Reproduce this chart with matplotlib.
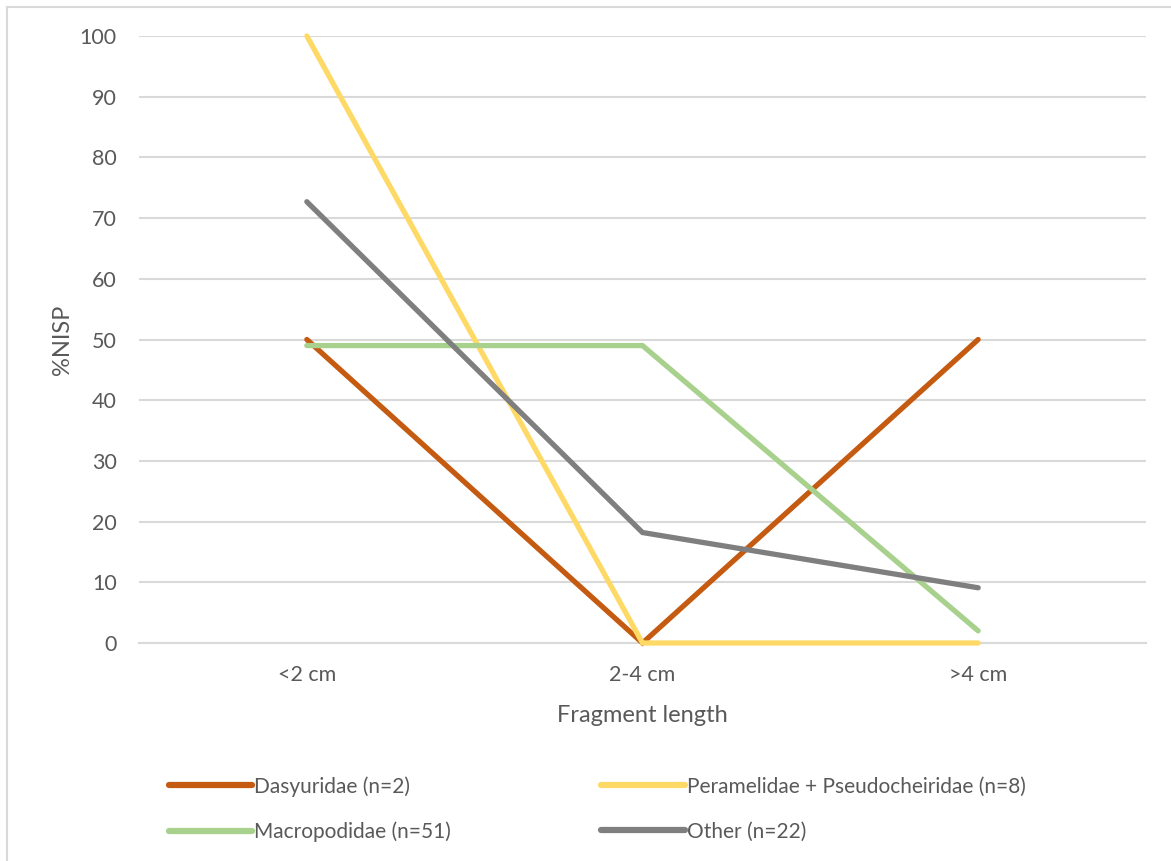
import matplotlib.pyplot as plt
from matplotlib.lines import Line2D

# Fragment length classes and %NISP per taxon
categories = ['<2 cm', '2-4 cm', '>4 cm']
dasyuridae = [50, 0, 50]
peramelidae = [100, 0, 0]
macropodidae = [49.0, 49.0, 2.0]
other = [72.7, 18.2, 9.1]

labels = ['Dasyuridae (n=2)', 'Peramelidae + Pseudocheiridae (n=8)',
          'Macropodidae (n=51)', 'Other (n=22)']
colors = ['#C55A11', '#FFD966', '#A9D18E', '#7F7F7F']

plt.rcParams['font.family'] = ['Lato', 'DejaVu Sans']
text_col = '#595959'

fig = plt.figure(figsize=(11.71, 8.61), dpi=100)
ax = fig.add_axes([139 / 1171, 1 - 643 / 861, (1146 - 139) / 1171, (643 - 36) / 861])

x = range(len(categories))
handles = []
for vals, lab, col in zip([dasyuridae, peramelidae, macropodidae, other], labels, colors):
    ln, = ax.plot(x, vals, color=col, lw=3.8, solid_capstyle='round',
                  solid_joinstyle='miter', label=lab, clip_on=False, zorder=3)
    handles.append(ln)

ax.set_xlim(-0.5, 2.5)
ax.set_ylim(0, 100)
ax.set_yticks(range(0, 101, 10))
ax.set_xticks(list(x))
ax.set_xticklabels(categories)

ax.grid(axis='y', color='#D9D9D9', lw=1.5, zorder=0)
ax.set_axisbelow(True)
for s in ['top', 'right', 'left']:
    ax.spines[s].set_visible(False)
ax.spines['bottom'].set_color('#D9D9D9')
ax.spines['bottom'].set_linewidth(1.5)

ax.tick_params(axis='both', length=0, labelsize=15.5, labelcolor=text_col)
ax.tick_params(axis='y', pad=16)
ax.tick_params(axis='x', pad=16)

ax.set_xlabel('Fragment length', fontsize=17, color=text_col, labelpad=14)
ax.set_ylabel('%NISP', fontsize=17, color=text_col, labelpad=5)

# legend filled column-wise, so reorder to read row-wise
order = [0, 2, 1, 3]
leg_handles = [Line2D([], [], color=colors[i], lw=4.5, solid_capstyle='round') for i in order]
fig.legend(leg_handles, [labels[i] for i in order], ncol=2, frameon=False,
           loc='upper left', bbox_to_anchor=(169 / 1171, 1 - 776 / 861),
           fontsize=15, labelcolor=text_col, handlelength=4.0, handletextpad=0.1,
           columnspacing=7.2, labelspacing=1.2, borderpad=0, borderaxespad=0)

# chart frame, only the left and top edges are in view
fig.add_artist(Line2D([7 / 1171, 7 / 1171], [0, 1 - 7 / 861], color='#D9D9D9', lw=1.5))
fig.add_artist(Line2D([7 / 1171, 1], [1 - 7 / 861, 1 - 7 / 861], color='#D9D9D9', lw=1.5))

fig.savefig('out.png', dpi=100)
